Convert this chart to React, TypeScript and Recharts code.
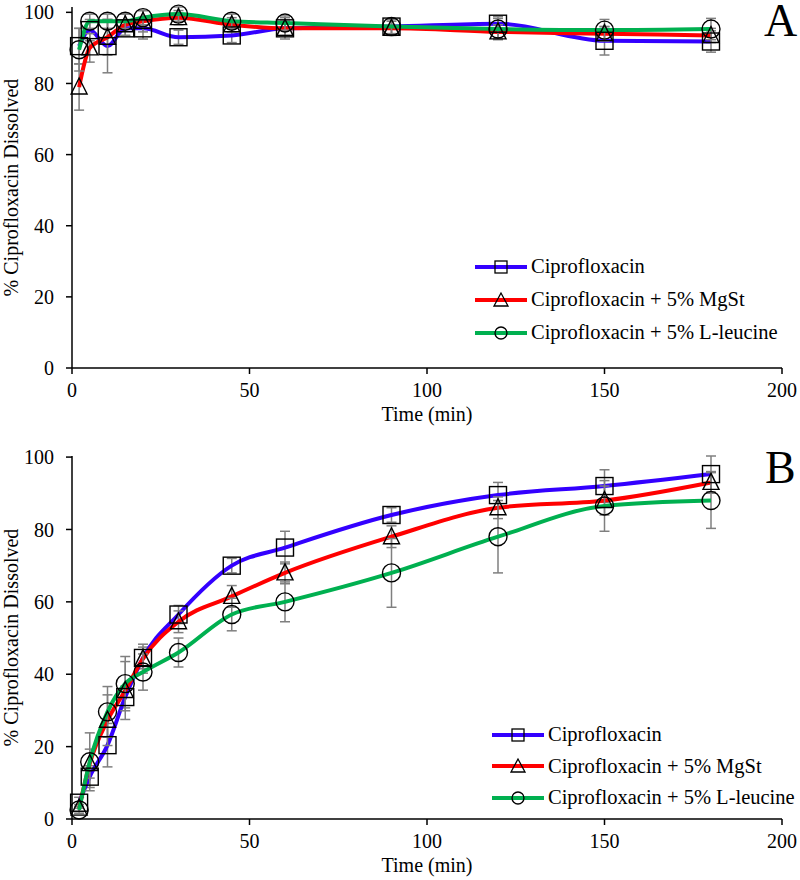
import React from 'react';
import { ComposedChart, Line, XAxis, YAxis, ErrorBar } from 'recharts';

const times = [2, 5, 10, 15, 20, 30, 45, 60, 90, 120, 150, 180];
const seriesNames = ['Ciprofloxacin', 'Ciprofloxacin + 5% MgSt', 'Ciprofloxacin + 5% L-leucine'];
const xTicks = [0, 50, 100, 150, 200];
const yTicks = [0, 20, 40, 60, 80, 100];

// Panel A
const aCipro = [90.5, 95, 90.5, 95.5, 95.5, 93, 93.5, 95.5, 96, 96.8, 92, 91.8];
const aCiproErr = [5, 3, 7.5, 2, 3, 2, 2, 3, 2, 2, 4, 3];
const aMg = [79, 90, 93, 96.5, 97.5, 98.5, 96.5, 95.5, 95.5, 94.5, 94, 93.5];
const aMgErr = [6.5, 4, 5, 3, 3, 2, 2, 2, 2, 2, 2, 2];
const aLeu = [89.5, 97.5, 97.5, 97.5, 98.5, 99.5, 97.5, 97, 96, 95.3, 95, 95.3];
const aLeuErr = [6, 2, 2, 2, 2, 2, 2, 2, 2, 3, 3, 3];

// Panel B
const bCipro = [4.5, 11.7, 20.4, 33.7, 44.5, 56.5, 70, 75, 84, 89.5, 92, 95.3];
const bCiproErr = [1.5, 3, 6, 3, 3, 2.5, 2, 4.5, 2, 3.5, 4.5, 5];
const bMg = [3, 15.3, 27.3, 35.5, 44.3, 54.5, 61.5, 68, 78, 86, 88, 93];
const bMgErr = [1, 4, 7, 8, 4, 3, 3, 3, 3, 3, 4, 3];
const bLeu = [2.5, 15.8, 29.6, 37.4, 40.6, 46, 56.5, 60, 68, 78, 86.5, 88];
const bLeuErr = [1, 8, 7, 7.5, 5, 4, 4.5, 5.5, 9.5, 10, 7, 7.7];

const COLORS = ['#3300ff', '#ff0000', '#00b050'];
const FONT = '"Liberation Serif", "Times New Roman", serif';
const FS = 20;

const build = (c: number[], ce: number[], m: number[], me: number[], l: number[], le: number[]) =>
  times.map((t, i) => ({ t, c: c[i], ce: ce[i], m: m[i], me: me[i], l: l[i], le: le[i] }));

const dataA = build(aCipro, aCiproErr, aMg, aMgErr, aLeu, aLeuErr);
const dataB = build(bCipro, bCiproErr, bMg, bMgErr, bLeu, bLeuErr);

const SquareDot = (props: any) => {
  const { cx, cy } = props;
  if (cx == null || cy == null) return null;
  const s = 8.5;
  return <rect x={cx - s} y={cy - s} width={2 * s} height={2 * s} fill="none" stroke="#000" strokeWidth={1.4} />;
};
const TriDot = (props: any) => {
  const { cx, cy } = props;
  if (cx == null || cy == null) return null;
  const h = 8;
  return (
    <polygon
      points={`${cx},${cy - h - 1} ${cx - h},${cy + h - 1} ${cx + h},${cy + h - 1}`}
      fill="none"
      stroke="#000"
      strokeWidth={1.4}
    />
  );
};
const CircDot = (props: any) => {
  const { cx, cy } = props;
  if (cx == null || cy == null) return null;
  return <circle cx={cx} cy={cy} r={9} fill="none" stroke="#000" strokeWidth={1.4} />;
};

const dots = [SquareDot, TriDot, CircDot];

const YLabel = (props: any) => {
  const vb = props.viewBox || {};
  const cy = vb.y + vb.height / 2;
  return (
    <text
      x={18}
      y={cy}
      transform={`rotate(-90, 18, ${cy})`}
      textAnchor="middle"
      fontFamily={FONT}
      fontSize={FS}
      fill="#000"
    >
      % Ciprofloxacin Dissolved
    </text>
  );
};

const XLabel = (props: any) => {
  const vb = props.viewBox || {};
  return (
    <text x={vb.x + vb.width / 2} y={vb.y + 53} textAnchor="middle" fontFamily={FONT} fontSize={FS} fill="#000">
      Time (min)
    </text>
  );
};

const LegendBox = ({ left, top, rowH }: { left: number; top: number; rowH: number }) => (
  <div
    style={{ position: 'absolute', left, top, fontFamily: FONT, fontSize: 20.5, color: '#000', whiteSpace: 'nowrap' }}
  >
    {seriesNames.map((name, i) => (
      <div key={name} style={{ display: 'flex', alignItems: 'center', height: rowH }}>
        <svg width={53} height={20} style={{ marginRight: 3, flexShrink: 0 }}>
          <line x1={0} y1={10} x2={52} y2={10} stroke={COLORS[i]} strokeWidth={4} />
          {i === 0 && <rect x={20} y={4} width={12} height={12} fill="none" stroke="#000" strokeWidth={1.3} />}
          {i === 1 && <polygon points="26,3 19,16 33,16" fill="none" stroke="#000" strokeWidth={1.3} />}
          {i === 2 && <circle cx={26} cy={10} r={6} fill="none" stroke="#000" strokeWidth={1.3} />}
        </svg>
        <span>{name}</span>
      </div>
    ))}
  </div>
);

const Panel = ({ data, margin, curve }: { data: any[]; margin: any; curve: any }) => (
  <ComposedChart width={800} height={440} data={data} margin={margin}>
    <XAxis
      dataKey="t"
      type="number"
      domain={[0, 200]}
      ticks={xTicks}
      tickSize={6}
      tickMargin={9}
      axisLine={{ stroke: '#000', strokeWidth: 1.5 }}
      tickLine={{ stroke: '#000', strokeWidth: 1.5 }}
      tick={{ fill: '#000', fontFamily: FONT, fontSize: FS }}
      height={50}
      label={<XLabel />}
    />
    <YAxis
      type="number"
      domain={[0, 100]}
      ticks={yTicks}
      tickSize={6}
      tickMargin={12}
      width={72}
      axisLine={{ stroke: '#000', strokeWidth: 1.5 }}
      tickLine={{ stroke: '#000', strokeWidth: 1.5 }}
      tick={{ fill: '#000', fontFamily: FONT, fontSize: FS }}
      label={<YLabel />}
    />
    {['c', 'm', 'l'].map((k, i) => (
      <Line
        key={k}
        dataKey={k}
        type={curve}
        stroke={COLORS[i]}
        strokeWidth={4}
        dot={dots[i]}
        activeDot={false}
        isAnimationActive={false}
      >
        <ErrorBar dataKey={k + 'e'} direction="y" stroke="#7f7f7f" strokeWidth={1.5} width={5} />
      </Line>
    ))}
  </ComposedChart>
);

export default function App() {
  return (
    <div style={{ position: 'absolute', left: 0, top: 0, width: 800, height: 880, background: '#fff' }}>
      <div style={{ position: 'absolute', left: 0, top: 0 }}>
        <Panel data={dataA} margin={{ top: 7, right: 18, bottom: 22, left: 0 }} curve="monotone" />
      </div>
      <div style={{ position: 'absolute', left: 0, top: 440 }}>
        <Panel data={dataB} margin={{ top: 16, right: 18, bottom: 11, left: 0 }} curve="monotone" />
      </div>
      <div style={{ position: 'absolute', left: 764, top: -9, fontFamily: FONT, fontSize: 46, lineHeight: '60px' }}>A</div>
      <div style={{ position: 'absolute', left: 765, top: 438, fontFamily: FONT, fontSize: 46, lineHeight: '60px' }}>B</div>
      <LegendBox left={475} top={250} rowH={33} />
      <LegendBox left={492} top={719} rowH={31.5} />
    </div>
  );
}
